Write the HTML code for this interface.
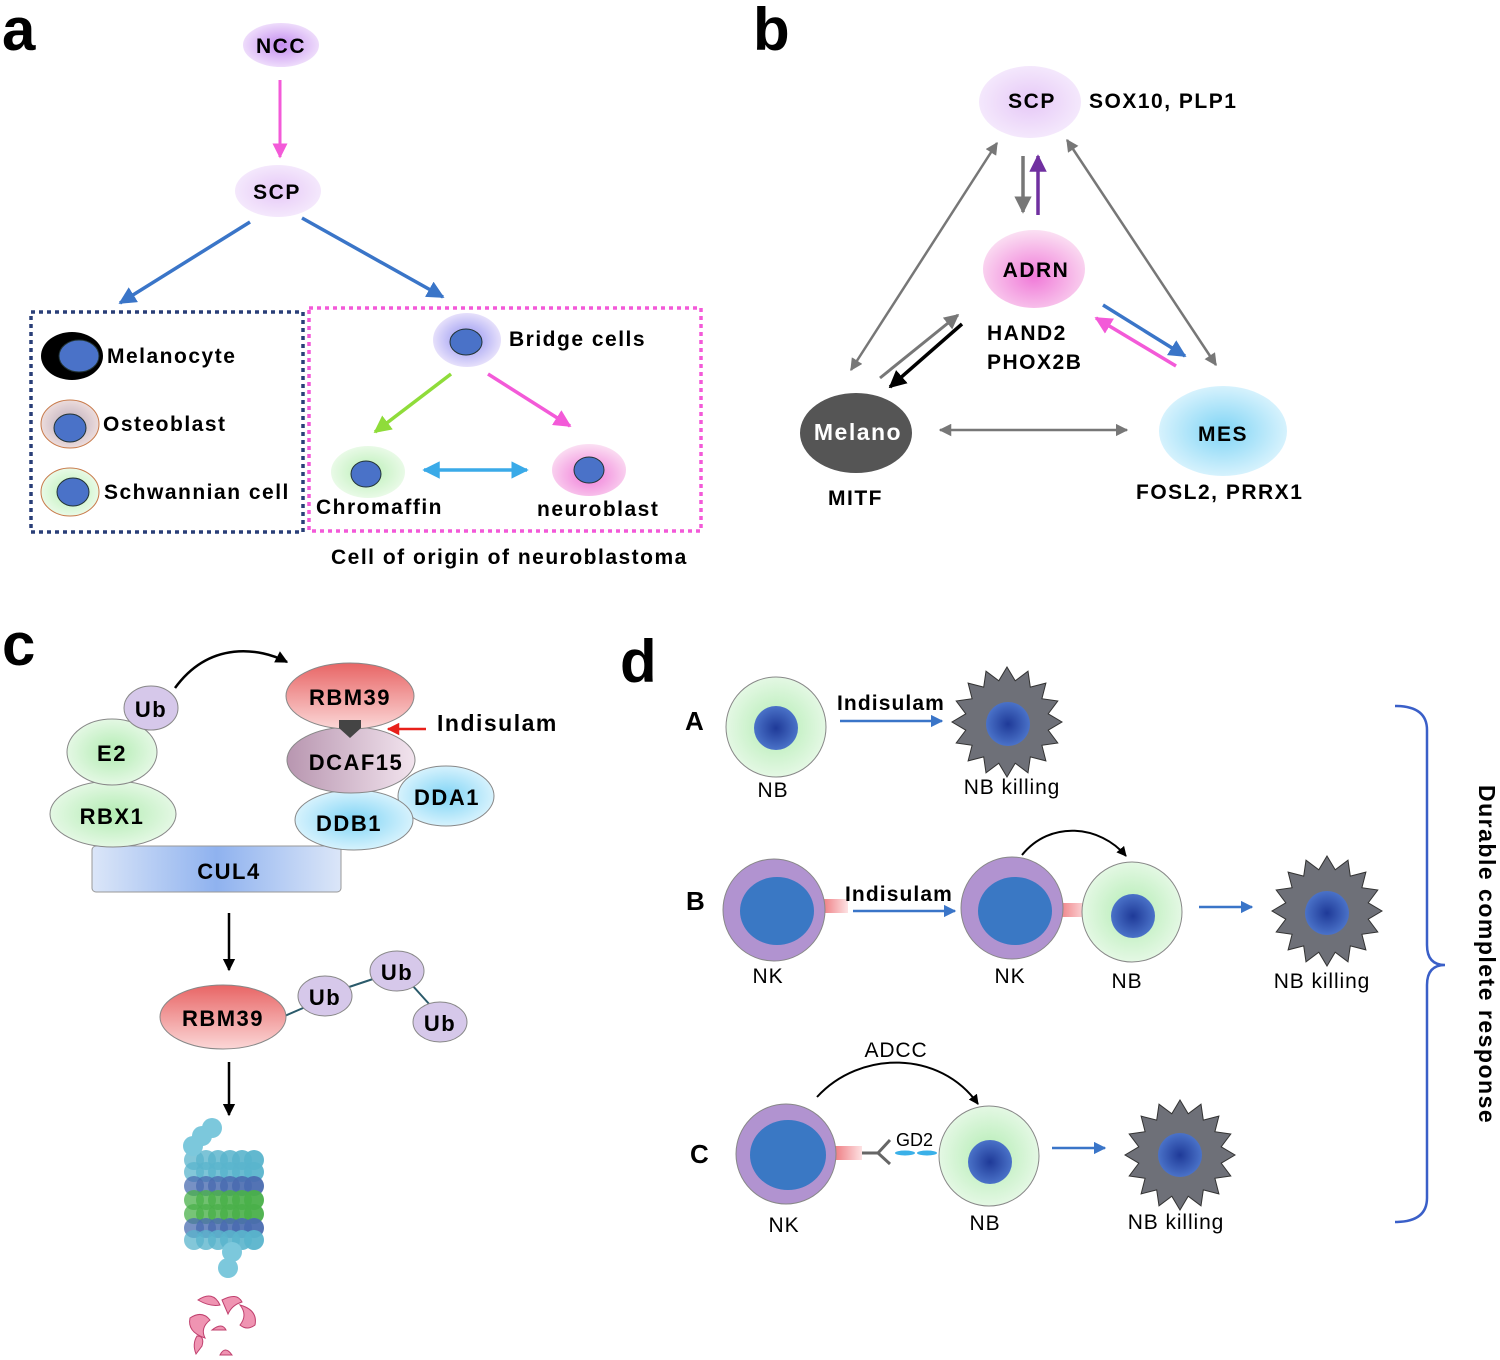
<!DOCTYPE html>
<html><head><meta charset="utf-8"><style>
html,body{margin:0;padding:0;background:#fff}
svg{display:block}
text{font-family:"Liberation Sans",Arial,sans-serif;letter-spacing:0.9px}
.b{font-weight:bold;letter-spacing:1.5px}
</style></head><body>
<svg id="s" width="1500" height="1360" viewBox="0 0 1500 1360" xmlns="http://www.w3.org/2000/svg">
<defs>
<radialGradient id="purp" cx="50%" cy="50%" r="50%"><stop offset="0" stop-color="#c48cf0"/><stop offset="1" stop-color="#eedcfb"/></radialGradient>
<radialGradient id="lpurp" cx="50%" cy="50%" r="50%"><stop offset="0" stop-color="#e6c8f7"/><stop offset="1" stop-color="#f4e8fc"/></radialGradient>
<radialGradient id="pink" cx="50%" cy="60%" r="60%"><stop offset="0" stop-color="#f07ad8"/><stop offset="1" stop-color="#fbe0f3"/></radialGradient>
<radialGradient id="blue" cx="50%" cy="50%" r="50%"><stop offset="0" stop-color="#7fd4f5"/><stop offset="1" stop-color="#d6f2fd"/></radialGradient>
<radialGradient id="green" cx="50%" cy="50%" r="50%"><stop offset="0" stop-color="#b9efb5"/><stop offset="1" stop-color="#e9fae7"/></radialGradient>
<radialGradient id="bridge" cx="50%" cy="50%" r="50%"><stop offset="0" stop-color="#8f8ff0"/><stop offset="1" stop-color="#e6e0fb"/></radialGradient>
<radialGradient id="osteo" cx="50%" cy="50%" r="50%"><stop offset="0" stop-color="#b8a8b8"/><stop offset="1" stop-color="#ecdcdc"/></radialGradient>
<radialGradient id="nuc" cx="50%" cy="50%" r="50%"><stop offset="0" stop-color="#1f3a98"/><stop offset="1" stop-color="#4a72c8"/></radialGradient>
<linearGradient id="red" x1="0" y1="0" x2="0" y2="1"><stop offset="0" stop-color="#e86565"/><stop offset="1" stop-color="#fbd7d7"/></linearGradient>
<linearGradient id="dcaf" x1="0" y1="0" x2="1" y2="0"><stop offset="0" stop-color="#b896b0"/><stop offset="1" stop-color="#f2e4ee"/></linearGradient>
<linearGradient id="cul" x1="0" y1="0" x2="1" y2="0"><stop offset="0" stop-color="#dbe6f8"/><stop offset="0.5" stop-color="#8fb2ef"/><stop offset="1" stop-color="#dbe6f8"/></linearGradient>
<radialGradient id="gcell" cx="50%" cy="50%" r="50%"><stop offset="0" stop-color="#b2ecb2"/><stop offset="1" stop-color="#e4f8e4"/></radialGradient>
<linearGradient id="stub" x1="0" y1="0" x2="1" y2="0"><stop offset="0" stop-color="#ee7a80"/><stop offset="1" stop-color="#fde2e3"/></linearGradient>
<marker id="ah" viewBox="0 0 10 10" refX="9" refY="5" markerWidth="5" markerHeight="5" orient="auto-start-reverse"><path d="M0,0L10,5L0,10z" fill="context-stroke"/></marker>
</defs>

<!-- panel a -->
<text x="2" y="50" font-size="60" class="b" style="letter-spacing:0">a</text>
<ellipse cx="281" cy="45" rx="38" ry="22" fill="url(#purp)"/>
<text x="281" y="53" font-size="21" class="b" text-anchor="middle">NCC</text>
<line x1="280" y1="80" x2="280" y2="157" stroke="#f35ad8" stroke-width="3" marker-end="url(#ah)"/>
<ellipse cx="278" cy="191" rx="43" ry="26" fill="url(#lpurp)"/>
<text x="277" y="199" font-size="21" class="b" text-anchor="middle">SCP</text>
<line x1="250" y1="222" x2="120" y2="303" stroke="#3a75c8" stroke-width="3.5" marker-end="url(#ah)"/>
<line x1="302" y1="218" x2="443" y2="297" stroke="#3a75c8" stroke-width="3.5" marker-end="url(#ah)"/>
<rect x="31" y="312" width="272" height="220" fill="none" stroke="#2a3f78" stroke-width="3.5" stroke-dasharray="4,4"/>
<rect x="309" y="308" width="392" height="223" fill="none" stroke="#f35ad8" stroke-width="3.5" stroke-dasharray="4,4"/>
<ellipse cx="72" cy="356" rx="31" ry="24" fill="#000"/>
<ellipse cx="79" cy="356" rx="20" ry="16" fill="#4a72c8" stroke="#233" />
<text x="107" y="363" font-size="21" class="b">Melanocyte</text>
<ellipse cx="70" cy="424" rx="29" ry="24" fill="url(#osteo)" stroke="#c87a4a"/>
<ellipse cx="70" cy="428" rx="16" ry="14" fill="#4a72c8" stroke="#233"/>
<text x="103" y="431" font-size="21" class="b">Osteoblast</text>
<ellipse cx="70" cy="492" rx="29" ry="24" fill="url(#green)" stroke="#c87a4a"/>
<ellipse cx="73" cy="492" rx="16" ry="14" fill="#4a72c8" stroke="#233"/>
<text x="104" y="499" font-size="21" class="b">Schwannian cell</text>
<ellipse cx="467" cy="340" rx="34" ry="27" fill="url(#bridge)"/>
<ellipse cx="466" cy="342" rx="16" ry="13" fill="#4a72c8" stroke="#233"/>
<text x="509" y="346" font-size="21" class="b">Bridge cells</text>
<line x1="451" y1="374" x2="375" y2="432" stroke="#8fdc3a" stroke-width="3.5" marker-end="url(#ah)"/>
<line x1="488" y1="374" x2="570" y2="426" stroke="#f35ad8" stroke-width="3.5" marker-end="url(#ah)"/>
<ellipse cx="368" cy="472" rx="37" ry="26" fill="url(#green)"/>
<ellipse cx="366" cy="474" rx="15" ry="13" fill="#4a72c8" stroke="#233"/>
<ellipse cx="589" cy="470" rx="37" ry="26" fill="url(#pink)"/>
<ellipse cx="589" cy="470" rx="15" ry="13" fill="#4a72c8" stroke="#233"/>
<line x1="424" y1="470" x2="527" y2="470" stroke="#3aaae8" stroke-width="3.5" marker-start="url(#ah)" marker-end="url(#ah)"/>
<text x="316" y="514" font-size="21" class="b">Chromaffin</text>
<text x="537" y="516" font-size="21" class="b">neuroblast</text>
<text x="331" y="564" font-size="21" class="b">Cell of origin of neuroblastoma</text>

<!-- panel b -->
<text x="753" y="50" font-size="60" class="b" style="letter-spacing:0">b</text>
<ellipse cx="1030" cy="102" rx="51" ry="36" fill="url(#lpurp)"/>
<text x="1032" y="108" font-size="21" class="b" text-anchor="middle">SCP</text>
<text x="1089" y="108" font-size="21" class="b">SOX10, PLP1</text>
<ellipse cx="1034" cy="269" rx="51" ry="39" fill="url(#pink)"/>
<text x="1036" y="277" font-size="21" class="b" text-anchor="middle">ADRN</text>
<text x="987" y="340" font-size="21" class="b">HAND2</text>
<text x="987" y="369" font-size="21" class="b">PHOX2B</text>
<ellipse cx="856" cy="433" rx="56" ry="40" fill="#555"/>
<text x="858" y="440" font-size="23" class="b" fill="#fff" text-anchor="middle">Melano</text>
<text x="828" y="505" font-size="21" class="b">MITF</text>
<ellipse cx="1223" cy="431" rx="64" ry="45" fill="url(#blue)"/>
<text x="1223" y="441" font-size="21" class="b" text-anchor="middle">MES</text>
<text x="1136" y="499" font-size="21" class="b">FOSL2, PRRX1</text>
<line x1="1023" y1="156" x2="1023" y2="212" stroke="#777" stroke-width="3.5" marker-end="url(#ah)"/>
<line x1="1038" y1="215" x2="1038" y2="156" stroke="#7030a0" stroke-width="3.5" marker-end="url(#ah)"/>
<line x1="997" y1="143" x2="851" y2="370" stroke="#777" stroke-width="2.5" marker-start="url(#ah)" marker-end="url(#ah)"/>
<line x1="1067" y1="140" x2="1216" y2="365" stroke="#777" stroke-width="2.5" marker-start="url(#ah)" marker-end="url(#ah)"/>
<line x1="880" y1="378" x2="958" y2="315" stroke="#777" stroke-width="3" marker-end="url(#ah)"/>
<line x1="962" y1="324" x2="890" y2="387" stroke="#000" stroke-width="3.5" marker-end="url(#ah)"/>
<line x1="1103" y1="305" x2="1185" y2="356" stroke="#3a75c8" stroke-width="3.5" marker-end="url(#ah)"/>
<line x1="1176" y1="366" x2="1096" y2="318" stroke="#f35ad8" stroke-width="3.5" marker-end="url(#ah)"/>
<line x1="940" y1="430" x2="1127" y2="430" stroke="#777" stroke-width="2.5" marker-start="url(#ah)" marker-end="url(#ah)"/>

<!-- panel c -->
<text x="2" y="665" font-size="60" class="b" style="letter-spacing:0">c</text>
<path d="M175,688 C210,640 260,648 287,662" fill="none" stroke="#000" stroke-width="2.5" marker-end="url(#ah)"/>
<rect x="92" y="846" width="249" height="46" rx="4" fill="url(#cul)" stroke="#999"/>
<text x="229" y="879" font-size="22" class="b" text-anchor="middle">CUL4</text>
<ellipse cx="113" cy="814" rx="63" ry="33" fill="url(#gcell)" stroke="#888"/>
<text x="112" y="824" font-size="22" class="b" text-anchor="middle">RBX1</text>
<ellipse cx="112" cy="752" rx="45" ry="33" fill="url(#gcell)" stroke="#888"/>
<text x="112" y="761" font-size="22" class="b" text-anchor="middle">E2</text>
<ellipse cx="151" cy="708" rx="27" ry="22" fill="#d6c8ea" stroke="#888"/>
<text x="151" y="717" font-size="22" class="b" text-anchor="middle">Ub</text>
<ellipse cx="446" cy="796" rx="48" ry="30" fill="url(#blue)" stroke="#888"/>
<text x="447" y="805" font-size="22" class="b" text-anchor="middle">DDA1</text>
<ellipse cx="354" cy="820" rx="59" ry="30" fill="url(#blue)" stroke="#888"/>
<text x="349" y="831" font-size="22" class="b" text-anchor="middle">DDB1</text>
<ellipse cx="351" cy="760" rx="64" ry="33" fill="url(#dcaf)" stroke="#888"/>
<text x="356" y="770" font-size="22" class="b" text-anchor="middle">DCAF15</text>
<ellipse cx="350" cy="696" rx="64" ry="33" fill="url(#red)" stroke="#888"/>
<text x="350" y="705" font-size="22" class="b" text-anchor="middle">RBM39</text>
<path d="M339,720 h22 v8 l-11,10 l-11,-10z" fill="#444"/>
<line x1="426" y1="729" x2="388" y2="729" stroke="#e8201a" stroke-width="2.5" marker-end="url(#ah)"/>
<text x="437" y="731" font-size="23" class="b">Indisulam</text>
<line x1="229" y1="913" x2="229" y2="970" stroke="#000" stroke-width="2.5" marker-end="url(#ah)"/>
<line x1="280" y1="1018" x2="310" y2="1005" stroke="#2a5a6a" stroke-width="2"/>
<line x1="340" y1="990" x2="376" y2="978" stroke="#2a5a6a" stroke-width="2"/>
<line x1="412" y1="985" x2="430" y2="1005" stroke="#2a5a6a" stroke-width="2"/>
<ellipse cx="223" cy="1017" rx="63" ry="32" fill="url(#red)" stroke="#888"/>
<text x="223" y="1026" font-size="22" class="b" text-anchor="middle">RBM39</text>
<ellipse cx="325" cy="996" rx="27" ry="20" fill="#d6c8ea" stroke="#888"/>
<text x="325" y="1005" font-size="22" class="b" text-anchor="middle">Ub</text>
<ellipse cx="397" cy="971" rx="27" ry="20" fill="#d6c8ea" stroke="#888"/>
<text x="397" y="980" font-size="22" class="b" text-anchor="middle">Ub</text>
<ellipse cx="440" cy="1022" rx="27" ry="20" fill="#d6c8ea" stroke="#888"/>
<text x="440" y="1031" font-size="22" class="b" text-anchor="middle">Ub</text>
<line x1="229" y1="1062" x2="229" y2="1115" stroke="#000" stroke-width="2.5" marker-end="url(#ah)"/>
<g id="prot"></g>
<g fill="#ef94b2" stroke="#c0406e" stroke-width="1">
<path d="M198,1300 q15,-10 22,5 q-10,2 -22,-5z"/>
<path d="M222,1300 q15,-8 20,2 q-10,3 -14,12z"/>
<path d="M190,1318 q12,-8 20,2 q-10,8 -5,18 q-18,-6 -15,-20z"/>
<path d="M240,1305 q18,5 15,20 q-8,6 -15,0 q8,-10 0,-20z"/>
<path d="M212,1330 q10,-8 14,0 z"/>
<path d="M197,1336 q8,0 5,10 l-6,8 q-4,-10 1,-18z"/>
<path d="M220,1355 q5,-10 12,0z"/>
</g>

<!-- panel d -->
<text x="620" y="682" font-size="60" class="b" style="letter-spacing:0">d</text>
<text x="685" y="730" font-size="26" class="b">A</text>
<text x="686" y="910" font-size="26" class="b">B</text>
<text x="690" y="1163" font-size="26" class="b">C</text>
<!-- A -->
<circle cx="776" cy="727" r="50" fill="url(#gcell)" stroke="#888"/>
<circle cx="776" cy="728" r="22" fill="url(#nuc)"/>
<text x="773" y="797" font-size="21" text-anchor="middle">NB</text>
<text x="837" y="710" font-size="21" class="b" style="letter-spacing:1.1px">Indisulam</text>
<line x1="840" y1="721" x2="942" y2="721" stroke="#3a75c8" stroke-width="2.5" marker-end="url(#ah)"/>
<polygon class="star" data-c="1007,722,55,42" fill="#6e7078" stroke="#333"/>
<circle cx="1008" cy="724" r="22" fill="url(#nuc)"/>
<text x="1012" y="794" font-size="21" text-anchor="middle">NB killing</text>
<!-- B -->
<rect x="822" y="899" width="26" height="14" fill="url(#stub)"/>
<circle cx="774" cy="910" r="51" fill="#b193d0" stroke="#888"/>
<ellipse cx="777" cy="911" rx="37" ry="34" fill="#3a78c4"/>
<text x="768" y="983" font-size="21" text-anchor="middle">NK</text>
<text x="845" y="901" font-size="21" class="b" style="letter-spacing:1.1px">Indisulam</text>
<line x1="853" y1="911" x2="955" y2="911" stroke="#3a75c8" stroke-width="2.5" marker-end="url(#ah)"/>
<rect x="1058" y="903" width="30" height="14" fill="url(#stub)"/>
<circle cx="1012" cy="908" r="51" fill="#b193d0" stroke="#888"/>
<ellipse cx="1015" cy="911" rx="37" ry="34" fill="#3a78c4"/>
<text x="1010" y="983" font-size="21" text-anchor="middle">NK</text>
<circle cx="1132" cy="912" r="50" fill="url(#gcell)" stroke="#888"/>
<circle cx="1133" cy="916" r="22" fill="url(#nuc)"/>
<text x="1127" y="988" font-size="21" text-anchor="middle">NB</text>
<path d="M1022,855 C1050,820 1100,825 1126,856" fill="none" stroke="#000" stroke-width="2" marker-end="url(#ah)"/>
<line x1="1199" y1="907" x2="1252" y2="907" stroke="#3a75c8" stroke-width="2.5" marker-end="url(#ah)"/>
<polygon class="star" data-c="1327,911,55,42" fill="#6e7078" stroke="#333"/>
<circle cx="1327" cy="913" r="22" fill="url(#nuc)"/>
<text x="1322" y="988" font-size="21" text-anchor="middle">NB killing</text>
<!-- C -->
<rect x="834" y="1146" width="28" height="14" fill="url(#stub)"/>
<circle cx="786" cy="1154" r="50" fill="#b193d0" stroke="#888"/>
<ellipse cx="788" cy="1155" rx="38" ry="35" fill="#3a78c4"/>
<text x="784" y="1232" font-size="21" text-anchor="middle">NK</text>
<path d="M862,1153 L878,1153 L890,1140 M878,1153 L890,1164" stroke="#666" stroke-width="3" fill="none"/>
<ellipse cx="905" cy="1153" rx="10" ry="2.5" fill="#3ab0e8"/>
<ellipse cx="927" cy="1153" rx="10" ry="2.5" fill="#3ab0e8"/>
<text x="896" y="1146" font-size="18" style="letter-spacing:0">GD2</text>
<circle cx="989" cy="1156" r="50" fill="url(#gcell)" stroke="#888"/>
<circle cx="990" cy="1162" r="22" fill="url(#nuc)"/>
<text x="985" y="1230" font-size="21" text-anchor="middle">NB</text>
<text x="896" y="1057" font-size="21" text-anchor="middle">ADCC</text>
<path d="M817,1097 C860,1050 940,1050 978,1104" fill="none" stroke="#000" stroke-width="2" marker-end="url(#ah)"/>
<line x1="1052" y1="1148" x2="1105" y2="1148" stroke="#3a75c8" stroke-width="2.5" marker-end="url(#ah)"/>
<polygon class="star" data-c="1180,1155,55,42" fill="#6e7078" stroke="#333"/>
<circle cx="1180" cy="1155" r="22" fill="url(#nuc)"/>
<text x="1176" y="1229" font-size="21" text-anchor="middle">NB killing</text>
<!-- brace -->
<path d="M1395,706 Q1427,706 1427,730 L1427,945 Q1427,965 1445,965 Q1427,965 1427,985 L1427,1198 Q1427,1222 1395,1222" fill="none" stroke="#3a5fc8" stroke-width="2.5"/>
<text transform="translate(1479,785) rotate(90)" font-size="23" class="b">Durable complete response</text>
</svg>
<script>
document.querySelectorAll('.star').forEach(function(p){
 var a=p.getAttribute('data-c').split(',').map(Number),pts=[],n=16;
 for(var i=0;i<2*n;i++){var r=i%2?a[3]:a[2],t=Math.PI*i/n-Math.PI/2;pts.push((a[0]+r*Math.cos(t)).toFixed(1)+','+(a[1]+r*Math.sin(t)).toFixed(1));}
 p.setAttribute('points',pts.join(' '));
});
(function(){
 var g=document.getElementById('prot'),h='';
 var rows=[['#5ab4cc',1160],['#5ab4cc',1172],['#4a6cb0',1186],['#4ab04a',1200],['#4ab04a',1214],['#4a6cb0',1228],['#5ab4cc',1240]];
 rows.forEach(function(r){[-28,-16,-4,8,20,32].forEach(function(dx,i){h+='<circle cx="'+(222+dx)+'" cy="'+r[1]+'" r="10" fill="'+r[0]+'" opacity="'+(0.75+0.04*i)+'"/>';});});
 [[212,1128],[202,1136],[193,1146],[232,1252],[228,1268]].forEach(function(c){h+='<circle cx="'+c[0]+'" cy="'+c[1]+'" r="10" fill="#7cc8dc"/>';});
 g.innerHTML=h;
})();
</script>
</body></html>
